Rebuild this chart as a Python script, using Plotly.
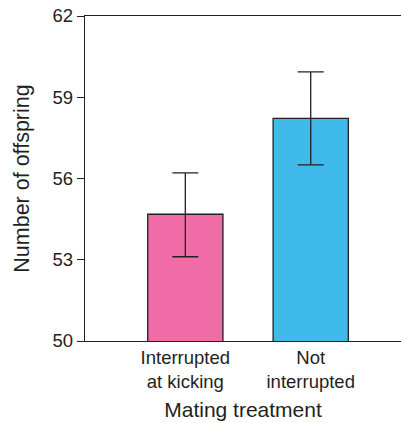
import plotly.graph_objects as go

categories = ["Interrupted<br>at kicking", "Not<br>interrupted"]
means = [54.68, 58.22]
err_plus = [1.53, 1.72]
err_minus = [1.57, 1.72]
bar_colors = ["#F06CA7", "#3FBAEB"]
y_ticks = [50, 53, 56, 59, 62]

ink = "#231F20"

fig = go.Figure()
fig.add_trace(go.Bar(
    x=categories,
    y=means,
    width=0.6,
    marker=dict(color=bar_colors, line=dict(color=ink, width=1.3)),
    error_y=dict(type="data", symmetric=False, array=err_plus, arrayminus=err_minus,
                 color=ink, thickness=1.3, width=13),
))

fig.update_layout(
    width=401, height=423,
    margin=dict(l=85, r=0, t=16, b=82, autoexpand=False),
    paper_bgcolor="white", plot_bgcolor="white",
    font=dict(family="Liberation Sans, Arial, sans-serif", color=ink),
    showlegend=False,
)
fig.update_xaxes(
    range=[-0.8, 1.72],
    showline=True, linecolor=ink, linewidth=1.3, mirror=True,
    ticks="", showgrid=False, zeroline=False,
    tickfont=dict(size=18.5, color=ink),
    title=dict(text="Mating treatment", font=dict(size=21, color=ink), standoff=10),
)
fig.update_yaxes(
    range=[50, 62],
    tickvals=y_ticks,
    showline=True, linecolor=ink, linewidth=1.3,
    ticks="outside", ticklen=7, tickcolor=ink, tickwidth=1.3,
    showgrid=False, zeroline=False,
    tickfont=dict(size=18.5, color=ink),
    title=dict(text="Number of offspring", font=dict(size=21.5, color=ink), standoff=17),
)

fig.write_html("out.html", config={"displayModeBar": False},
               post_script="document.body.style.margin='0';")
